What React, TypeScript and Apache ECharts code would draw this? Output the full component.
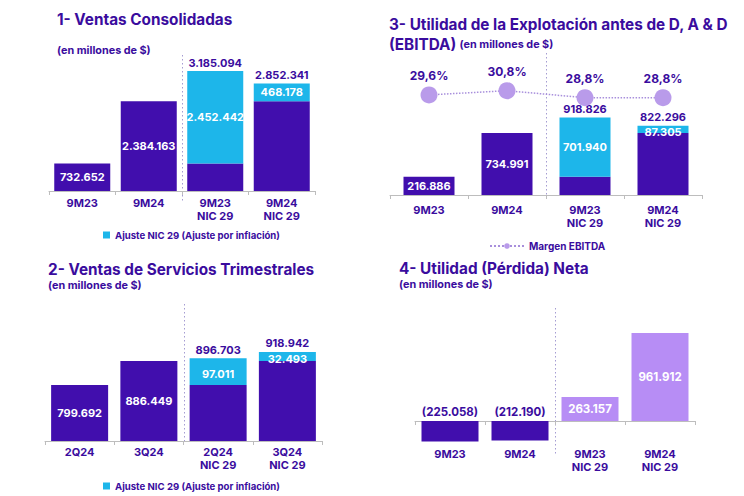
import React, { useEffect, useRef } from 'react';
import * as echarts from 'echarts';

const FONT = 'Inter, "Noto Sans", sans-serif';
const DARK = '#410EAD';
const CYAN = '#1DB6EA';
const LIGHT = '#B78DF5';
const MARK = '#B99BEA';
const TXT = '#3A0C9E';
const AXIS = '#BDBDBD';
const SEP = '#A59CD2';

const ADJ_NAME = 'Ajuste NIC 29 (Ajuste por inflación)';
const MARGIN_NAME = 'Margen EBITDA';

// Panel 1 - Ventas Consolidadas
const p1Categories = ['9M23', '9M24', '9M23\nNIC 29', '9M24\nNIC 29'];
const p1Base = [732652, 2384163, 732652, 2384163];
const p1Adjust = [null, null, 2452442, 468178];
const p1Total = [null, null, 3185094, 2852341];

// Panel 2 - Ventas de Servicios Trimestrales
const p2Categories = ['2Q24', '3Q24', '2Q24\nNIC 29', '3Q24\nNIC 29'];
const p2Base = [799692, 886449, 799692, 886449];
const p2Adjust = [null, null, 97011, 32493];
const p2Total = [null, null, 896703, 918942];

// Panel 3 - EBITDA
const p3Categories = ['9M23', '9M24', '9M23\nNIC 29', '9M24\nNIC 29'];
const p3Base = [216886, 734991, 216886, 734991];
const p3Adjust = [null, null, 701940, 87305];
const p3Total = [null, null, 918826, 822296];
const p3Margin = [29.6, 30.8, 28.8, 28.8];

// Panel 4 - Utilidad (Pérdida) Neta
const p4Categories = ['9M23', '9M24', '9M23\nNIC 29', '9M24\nNIC 29'];
const p4Net = [-225058, -212190, 263157, 961912];

const fmt = (v: number) => {
  const s = Math.abs(v).toString().replace(/\B(?=(\d{3})+(?!\d))/g, '.');
  return v < 0 ? `(${s})` : s;
};

const grids = [
  { left: 49, right: 429, top: 55, bottom: 305 },
  { left: 45, right: 422, top: 300, bottom: 55 },
  { left: 390, right: 42, top: 55, bottom: 301 },
  { left: 415, right: 49, top: 300, bottom: 51 },
];

const labelFont = { fontFamily: FONT, fontWeight: 'bold' as const, fontSize: 11 };

function xAxis(gridIndex: number, data: string[], margin: number) {
  return {
    type: 'category',
    gridIndex,
    data,
    axisLine: { show: true, lineStyle: { color: AXIS, width: 1 } },
    axisTick: { show: true, length: 4, lineStyle: { color: AXIS } },
    axisLabel: { ...labelFont, color: TXT, margin, lineHeight: 13 },
  };
}

function stackedSeries(
  idx: number,
  yIdx: number,
  base: number[],
  adjust: (number | null)[],
  total: (number | null)[],
  barWidth: number,
) {
  return [
    {
      type: 'bar',
      name: 'base' + idx,
      xAxisIndex: idx,
      yAxisIndex: yIdx,
      stack: 's' + idx,
      barWidth,
      data: base,
      itemStyle: { color: DARK },
      label: {
        show: true,
        position: 'inside',
        color: '#fff',
        ...labelFont,
        formatter: (p: any) => (adjust[p.dataIndex] == null ? fmt(p.value) : ''),
      },
    },
    {
      type: 'bar',
      name: ADJ_NAME,
      xAxisIndex: idx,
      yAxisIndex: yIdx,
      stack: 's' + idx,
      barWidth,
      data: adjust.map((v, i) =>
        v == null
          ? null
          : {
              value: v,
              label: { offset: [0, total[i] && v / (total[i] as number) < 0.15 ? 2.5 : 0] },
            },
      ),
      itemStyle: { color: CYAN },
      label: {
        show: true,
        position: 'inside',
        color: '#fff',
        ...labelFont,
        formatter: (p: any) => fmt(p.value),
      },
    },
    {
      type: 'bar',
      name: 'total' + idx,
      xAxisIndex: idx,
      yAxisIndex: yIdx,
      barWidth,
      barGap: '-100%',
      silent: true,
      data: total,
      itemStyle: { color: 'rgba(0,0,0,0)' },
      label: {
        show: true,
        position: 'top',
        distance: 3,
        color: TXT,
        ...labelFont,
        formatter: (p: any) => fmt(p.value),
      },
    },
  ];
}

const sepX = (g: { left: number; right: number }) => Math.round((g.left + (744 - g.right)) / 2) + 0.5;

export default function App() {
  const ref = useRef<HTMLDivElement>(null);
  useEffect(() => {
    document.body.style.margin = '0';
    const chart = echarts.init(ref.current!, undefined, { renderer: 'svg' });

    const titleStyle = { fontFamily: FONT, fontWeight: 'bold', fontSize: 15.3, fill: TXT };
    const subStyle = { fontFamily: FONT, fontWeight: 'bold', fontSize: 10.8, fill: TXT };
    const sepStyle = { stroke: SEP, lineWidth: 1, lineDash: [1.5, 2.5] };
    const legendText = { color: TXT, fontSize: 9.6, fontWeight: 'bold', fontFamily: FONT };

    const option: any = {
      animation: false,
      backgroundColor: '#fff',
      grid: grids,
      xAxis: [
        xAxis(0, p1Categories, 5),
        xAxis(1, p2Categories, 4),
        xAxis(2, p3Categories, 8),
        xAxis(3, p4Categories, 2),
      ],
      yAxis: [
        { type: 'value', gridIndex: 0, min: 0, max: 3610000, show: false },
        { type: 'value', gridIndex: 1, min: 597000, max: 1107000, show: false },
        { type: 'value', gridIndex: 2, min: 0, max: 1660000, show: false },
        { type: 'value', gridIndex: 2, min: 1, max: 41, show: false },
        { type: 'value', gridIndex: 3, min: -262000, max: 1322000, show: false },
      ],
      legend: [
        {
          data: [ADJ_NAME], left: 98, top: 225, icon: 'rect', itemWidth: 7, itemHeight: 7,
          selectedMode: false, textStyle: legendText,
        },
        {
          data: [ADJ_NAME], left: 98, top: 476, icon: 'rect', itemWidth: 7, itemHeight: 7,
          selectedMode: false, textStyle: legendText,
        },
        {
          data: [MARGIN_NAME], left: 484, top: 236, itemWidth: 34, itemHeight: 7,
          selectedMode: false, textStyle: { ...legendText, fontSize: 10 },
        },
      ],
      series: [
        ...stackedSeries(0, 0, p1Base, p1Adjust, p1Total, 56),
        ...stackedSeries(1, 1, p2Base, p2Adjust, p2Total, 57),
        ...stackedSeries(2, 2, p3Base, p3Adjust, p3Total, 51),
        {
          type: 'line',
          name: MARGIN_NAME,
          xAxisIndex: 2,
          yAxisIndex: 3,
          data: p3Margin,
          symbol: 'circle',
          symbolSize: 17,
          itemStyle: { color: MARK },
          lineStyle: { type: 'dotted', color: '#A88FDC', width: 1.5 },
          label: {
            show: true,
            position: 'top',
            distance: 5,
            color: TXT,
            fontFamily: FONT,
            fontWeight: 'bold',
            fontSize: 12,
            formatter: (p: any) => p.value.toFixed(1).replace('.', ',') + '%',
          },
        },
        {
          type: 'bar',
          name: 'net',
          xAxisIndex: 3,
          yAxisIndex: 4,
          barWidth: 57,
          data: p4Net.map((v, i) => ({
            value: v,
            itemStyle: { color: p4Categories[i].includes('NIC') ? LIGHT : DARK },
            label:
              v < 0
                ? { position: 'top', color: TXT, distance: 3 }
                : { position: 'inside', color: '#fff' },
          })),
          label: { show: true, ...labelFont, fontSize: 11.5, formatter: (p: any) => fmt(p.value) },
        },
      ],
      graphic: [
        { type: 'text', left: 57, top: 12, style: { ...titleStyle, text: '1- Ventas Consolidadas' } },
        { type: 'text', left: 57, top: 45, style: { ...subStyle, text: '(en millones de $)' } },
        { type: 'text', left: 48, top: 262, style: { ...titleStyle, text: '2- Ventas de Servicios Trimestrales' } },
        { type: 'text', left: 48, top: 280, style: { ...subStyle, text: '(en millones de $)' } },
        { type: 'text', left: 389, top: 17, style: { ...titleStyle, text: '3- Utilidad de la Explotación antes de D, A & D' } },
        {
          type: 'text', left: 389, top: 37,
          style: {
            text: '{b|(EBITDA)} {s|(en millones de $)}',
            fill: TXT,
            rich: {
              b: { fontFamily: FONT, fontWeight: 'bold', fontSize: 15.3, fill: TXT },
              s: { fontFamily: FONT, fontWeight: 'bold', fontSize: 10.8, fill: TXT },
            },
          },
        },
        { type: 'text', left: 399, top: 261, style: { ...titleStyle, text: '4- Utilidad (Pérdida) Neta' } },
        { type: 'text', left: 399, top: 279, style: { ...subStyle, text: '(en millones de $)' } },
        { type: 'line', shape: { x1: sepX(grids[0]), y1: 55, x2: sepX(grids[0]), y2: 202 }, style: sepStyle },
        { type: 'line', shape: { x1: sepX(grids[1]), y1: 304, x2: sepX(grids[1]), y2: 441 }, style: sepStyle },
        { type: 'line', shape: { x1: sepX(grids[2]), y1: 53, x2: sepX(grids[2]), y2: 197 }, style: sepStyle },
        { type: 'line', shape: { x1: sepX(grids[3]), y1: 308, x2: sepX(grids[3]), y2: 456 }, style: sepStyle },
      ],
    };
    chart.setOption(option);
    return () => chart.dispose();
  }, []);
  return <div ref={ref} style={{ width: 744, height: 496 }} />;
}
